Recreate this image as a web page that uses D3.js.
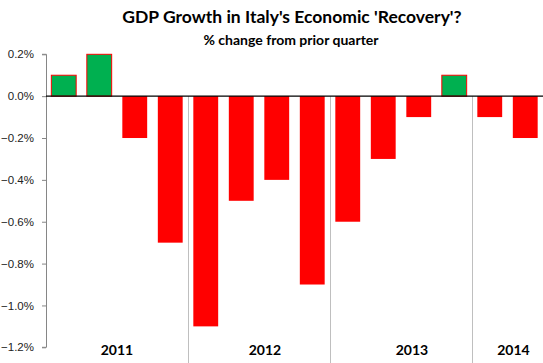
<!DOCTYPE html>
<html>
<head>
<meta charset="utf-8">
<title>GDP Growth in Italy</title>
<style type="text/css">
body { margin: 0; background: #fff; }
svg { display: block; font-family: Lato, "Open Sans", sans-serif; }
.tick text { fill: #222; font-size: 11.5px; }
</style>
<script src="https://cdn.jsdelivr.net/npm/d3@7"></script>
</head>
<body>
<svg width="543" height="363"></svg>
<script type="text/javascript">

// quarterly % change, 2011 Q1 .. 2014 Q2
var quarters = ["2011Q1","2011Q2","2011Q3","2011Q4","2012Q1","2012Q2","2012Q3","2012Q4",
                "2013Q1","2013Q2","2013Q3","2013Q4","2014Q1","2014Q2"];
var growth = [0.1, 0.2, -0.2, -0.7, -1.1, -0.5, -0.4, -0.9, -0.6, -0.3, -0.1, 0.1, -0.1, -0.2];
var years = ["2011", "2012", "2013", "2014"];
var yTicks = [0.2, 0.0, -0.2, -0.4, -0.6, -0.8, -1.0, -1.2];

var svg = d3.select("svg"),
    margin = {top: 54.3, right: 0, bottom: 15.7, left: 46},
    width = svg.attr("width") - margin.left - margin.right,
    height = svg.attr("height") - margin.top - margin.bottom,
    g = svg.append("g").attr("transform", "translate(" + margin.left + "," + margin.top + ")");

var x = d3.scaleBand().domain(quarters).range([0, width]).paddingInner(0.3).paddingOuter(0.15),
    y = d3.scaleLinear().domain([-1.2, 0.2]).range([height, 0]);

// year separators
var yearStarts = years.slice(1).map(function(yr) { return yr + "Q1"; });
g.selectAll(".sep")
  .data(yearStarts)
  .enter().append("line")
  .attr("x1", function(d) { return Math.round(x(d) - x.step() * x.paddingInner() / 2) + 0.5; })
  .attr("x2", function(d) { return Math.round(x(d) - x.step() * x.paddingInner() / 2) + 0.5; })
  .attr("y1", y(0))
  .attr("y2", 363 - margin.top)
  .attr("stroke", "#bfbfbf")
  .attr("stroke-width", 1);

// bars
g.selectAll(".bar")
  .data(growth)
  .enter().append("rect")
  .attr("x", function(d, i) { return x(quarters[i]); })
  .attr("width", x.bandwidth())
  .attr("y", function(d) { return y(Math.max(0, d)); })
  .attr("height", function(d) { return Math.abs(y(d) - y(0)); })
  .attr("fill", function(d) { return d > 0 ? "#00b050" : "#ff0000"; })
  .attr("stroke", function(d) { return d > 0 ? "#ff0000" : "none"; })
  .attr("stroke-width", 1);

// y axis
var yAxis = g.append("g")
  .attr("class", "axis axis--y")
  .call(d3.axisLeft(y).tickValues(yTicks).tickSize(4).tickPadding(8)
        .tickFormat(function(d) { return d3.format(".1f")(d) + "%"; }));
yAxis.select(".domain").attr("stroke", "#868686").attr("d", "M-4," + y(0.2) + "H0.5V" + y(-1.2) + "H-4");
yAxis.selectAll(".tick line").attr("stroke", "#868686");
yAxis.selectAll(".tick text").text(function(d) { return d3.format(".1f")(d).replace("-0.0", "0.0") + "%"; });

// zero line
g.append("line")
  .attr("x1", 0).attr("x2", width)
  .attr("y1", y(0)).attr("y2", y(0))
  .attr("stroke", "#000").attr("stroke-width", 1.2);

// year labels
var nudge = [0, 6, 11, 6];
g.selectAll(".year")
  .data(years)
  .enter().append("text")
  .attr("x", function(d, i) {
    var qs = quarters.filter(function(q) { return q.slice(0, 4) === d; });
    var a = i === 0 ? 0 : x(qs[0]) - x.step() * x.paddingInner() / 2;
    var b = i === years.length - 1 ? width : x(qs[qs.length - 1]) + x.bandwidth() + x.step() * x.paddingInner() / 2;
    return (a + b) / 2 + nudge[i];
  })
  .attr("y", 350 - margin.top)
  .attr("dy", "0.35em")
  .attr("text-anchor", "middle")
  .attr("font-weight", "bold")
  .attr("font-size", "14px")
  .attr("fill", "#000")
  .text(function(d) { return d; });

// titles
svg.append("text")
  .attr("x", 292).attr("y", 23)
  .attr("text-anchor", "middle")
  .attr("font-weight", "bold").attr("font-size", "17.5px")
  .text("GDP Growth in Italy's Economic 'Recovery'?");

svg.append("text")
  .attr("x", 291).attr("y", 45)
  .attr("text-anchor", "middle")
  .attr("font-weight", "bold").attr("font-size", "14px")
  .text("% change from prior quarter");

</script>
</body>
</html>
